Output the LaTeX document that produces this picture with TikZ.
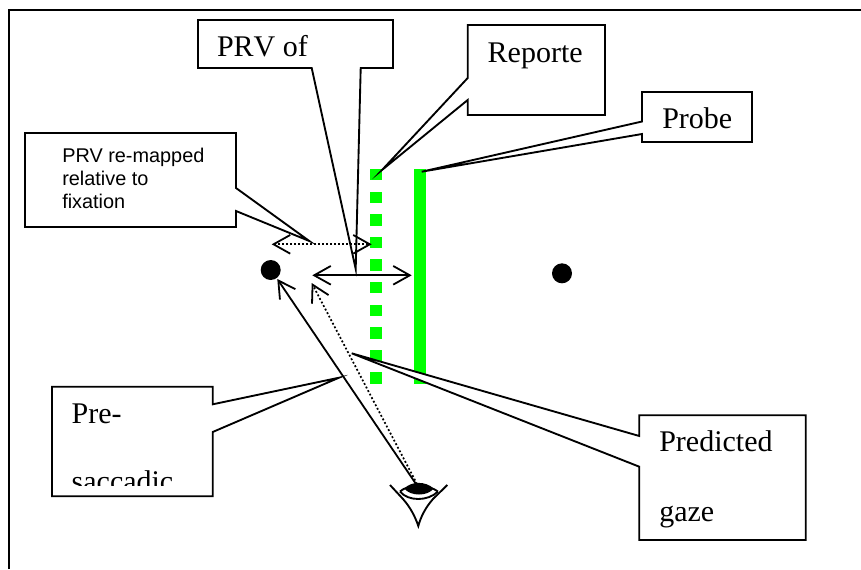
\documentclass[tikz,border=0pt]{standalone}
\usepackage{fontspec}
\setmainfont[Kerning=Off]{Liberation Serif}
\setsansfont{Liberation Sans}
\usetikzlibrary{arrows.meta}
\definecolor{barGreen}{RGB}{0,255,0}
\tikzset{
  px/.style={x=0.75pt,y=-0.75pt},
  barb/.tip={Straight Barb[length=12.5pt,width=14pt,line width=1.35pt]},
  calloutbox/.style={draw=black,fill=white,line width=1.4pt,line join=miter,miter limit=20},
  serifLabel/.style={inner sep=0pt,outer sep=0pt,anchor=base west,font=\fontsize{22.5pt}{22.5pt}\selectfont},
  sansLabel/.style={inner sep=0pt,outer sep=0pt,anchor=base west,font=\sffamily\fontsize{14.9pt}{14.9pt}\selectfont},
  solidarrow/.style={draw=black,line width=1.35pt},
  dottedarrow/.style={draw=black,line width=1.3pt,dash pattern=on 1.4pt off 1.6pt},
  dot/.style={circle,fill=black,draw=none,minimum size=15pt,inner sep=0pt,outer sep=0pt},
  eyeline/.style={draw=black,line width=1.4pt}
}
\begin{document}
\begin{tikzpicture}[px]
\useasboundingbox (0,0) rectangle (861,569);
% outer frame
\draw[line width=1.5pt] (9.3,569) -- (9.3,10) -- (861,10);
% bars
\foreach \y in {0,...,9}
  \fill[barGreen] (370,169+22.6*\y) rectangle (381.8,180.4+22.6*\y);
\fill[barGreen] (414,169) rectangle (425.7,384.3);
% callouts
\draw[calloutbox] (198,20) -- (393,20) -- (393,68) -- (360.7,68) -- (355.7,269) -- (311.7,68) -- (198,68) -- cycle;
\draw[calloutbox] (467.7,25) -- (605,25) -- (605,115) -- (467.7,115) -- (467.7,100) -- (382,170) -- (467.7,78) -- cycle;
\draw[calloutbox] (642,92) -- (752,92) -- (752,142) -- (642,142) -- (642,134) -- (421.7,171.7) -- (642,121.5) -- cycle;
\draw[calloutbox] (25,133) -- (236,133) -- (236,188) -- (309.3,241) -- (236,211) -- (236,227) -- (25,227) -- cycle;
\draw[calloutbox] (52,386.7) -- (212.7,386.7) -- (212.7,404.3) -- (339,377.7) -- (212.7,432) -- (212.7,496.3) -- (52,496.3) -- cycle;
\draw[calloutbox] (639.3,415.3) -- (805.7,415.3) -- (805.7,540) -- (639.3,540) -- (639.3,466.7) -- (351.7,353.3) -- (639.3,436) -- cycle;
% labels
\node[serifLabel] (prvof) at (217,56.7) {PRV of};
\node[serifLabel] (reporte) at (487.7,62) {Reporte};
\node[serifLabel] (probe) at (662.3,128.7) {Probe};
\node[serifLabel] (pre) at (71.7,423.3) {Pre-};
\begin{scope}
  \clip (53,440) rectangle (212,485.7);
  \node[serifLabel] (saccadic) at (71.7,491.5) {saccadic};
\end{scope}
\node[serifLabel] (predicted) at (659.3,451.7) {Predicted};
\node[serifLabel] (gaze) at (659.3,521.7) {gaze};
\node[sansLabel] (remapA) at (62.3,162) {PRV re-mapped};
\node[sansLabel] (remapB) at (62.3,185.3) {relative to};
\node[sansLabel] (remapC) at (62.3,208.4) {fixation};
% fixation points
\node[dot] (fixL) at (270.7,270) {};
\node[dot] (fixR) at (562,273.3) {};
% eye
\coordinate (eye) at (416,484);
\coordinate (eyeDot) at (417,484);
\fill[black] (404.5,488.5) .. controls (411,481) and (426,481) .. (433.5,488.5) .. controls (428,496.5) and (410,496.5) .. (404.5,488.5) -- cycle;
\draw[eyeline] (390,485) -- (403,499) .. controls (410,507) and (415,516) .. (418.3,526) .. controls (421,516) and (426,507) .. (433,499) -- (447.3,485);
\draw[eyeline] (400,491.5) .. controls (408,484) and (428,484) .. (438,491.5);
\draw[eyeline] (400,491.5) .. controls (408,501.5) and (428,501.5) .. (438,491.5);
% arrows
\coordinate (dL) at (271.7,244.3);
\coordinate (dR) at (371.7,244.3);
\coordinate (sL) at (312.3,275.3);
\coordinate (sR) at (411.7,275.3);
\coordinate (gazeActual) at (277.3,279);
\coordinate (gazePred) at (311.7,283);
\draw[dottedarrow,barb-barb] (dL) -- (dR);
\draw[solidarrow,barb-barb] (sL) -- (sR);
\draw[solidarrow,-barb] (eye) -- (gazeActual);
\draw[dottedarrow,-barb] (eyeDot) -- (gazePred);
\end{tikzpicture}
\end{document}
